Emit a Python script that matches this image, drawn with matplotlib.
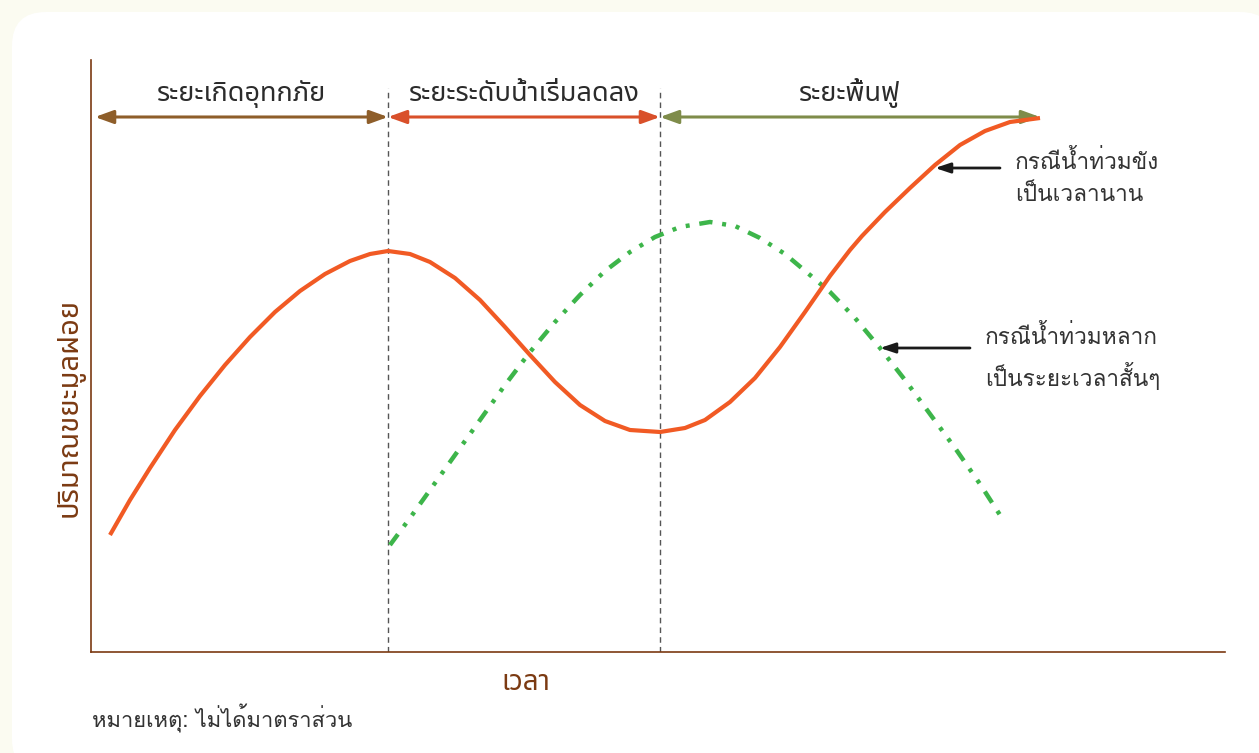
import matplotlib
matplotlib.use("Agg")
import matplotlib.pyplot as plt
from matplotlib import font_manager
from matplotlib.patches import FancyBboxPatch
from fontTools.ttLib import TTFont

# find installed fonts that have Thai glyphs
thai_fonts = []
for f in font_manager.fontManager.ttflist:
    try:
        tt = TTFont(f.fname, fontNumber=0, lazy=True)
        if 0x0E01 in tt.getBestCmap() and f.name not in thai_fonts:
            thai_fonts.append(f.name)
    except Exception:
        pass
# loopless font for the headings, looped one for the notes
plain_font = thai_fonts[0] if thai_fonts else 'DejaVu Sans'
for name in thai_fonts:
    if 'Loopless' in name or name == 'Noto Sans Thai':
        plain_font = name
        break
looped_font = plain_font
for name in ['Loma', 'Noto Sans Thai Looped', 'Garuda', 'Tlwg Typo']:
    if name in thai_fonts:
        looped_font = name
        break
plt.rcParams['font.family'] = [plain_font, 'DejaVu Sans']

# values (x: px from left spine, y: px above bottom spine)
long_flood_x = [19, 39, 59, 84, 109, 134, 159, 184, 209, 234, 259, 279, 297,
                319, 339, 364, 389, 414, 439, 464, 489, 514, 539, 569,
                594, 614, 639, 664, 689, 714, 739, 759, 771,
                794, 819, 844, 869, 894, 919, 949]
long_flood_y = [117, 152, 184, 222, 256, 287, 315, 340, 361, 378, 391, 398, 401,
                398, 390, 374, 352, 325, 297, 270, 247, 231, 222, 220,
                224, 232, 250, 274, 305, 340, 376, 402, 416,
                440, 464, 487, 507, 521, 530, 534]
short_flood_x = [299, 319, 339, 364, 389, 414, 439, 464, 489, 514, 539, 564, 589,
                 619, 644, 669, 694, 719, 739, 764, 789, 814, 839, 864, 889, 909]
short_flood_y = [107, 134, 162, 197, 232, 267, 300, 330, 357, 381, 400, 415, 425,
                 430, 426, 414, 398, 377, 360, 334, 304, 272, 238, 204, 168, 137]

phase_bounds = [4, 297, 569, 949]
phase_labels = ['ระยะเกิดอุทกภัย', 'ระยะระดับน้ำเริ่มลดลง', 'ระยะพื้นฟู']
phase_colors = ['#8E5E2A', '#D9502A', '#7F8C4A']

note_long = 'กรณีน้ำท่วมขัง\nเป็นเวลานาน'
note_short = 'กรณีน้ำท่วมหลาก\nเป็นระยะเวลาสั้นๆ'

fig = plt.figure(figsize=(12.59, 7.53), dpi=100, facecolor='#FBFBF1')
# white rounded panel
panel = FancyBboxPatch((12, -20), 1262, 741 + 20, boxstyle='round,pad=0,rounding_size=34',
                       transform=None, facecolor='white', edgecolor='none', zorder=-5)
fig.patches.append(panel)

ax = fig.add_axes([91 / 1259, (753 - 652) / 753, (1225 - 91) / 1259, (652 - 60) / 753])
ax.set_zorder(2)
ax.set_facecolor('none')
ax.set_xlim(0, 1134)
ax.set_ylim(0, 592)
brown = '#7B3A12'
for s in ['top', 'right']:
    ax.spines[s].set_visible(False)
for s in ['left', 'bottom']:
    ax.spines[s].set_color(brown)
    ax.spines[s].set_linewidth(1.2)
ax.set_xticks([])
ax.set_yticks([])

# phase boundaries
for xb in phase_bounds[1:3]:
    ax.plot([xb, xb], [0, 564], color='#555555', lw=1.0, ls=(0, (4, 3)), zorder=1)

# phase arrows and labels
arrow_y = 535
for i in range(3):
    x0, x1 = phase_bounds[i], phase_bounds[i + 1]
    ax.annotate('', xy=(x1, arrow_y), xytext=(x0, arrow_y),
                arrowprops=dict(arrowstyle='<|-|>,head_length=1.1,head_width=0.4',
                                color=phase_colors[i], lw=2.2, shrinkA=0, shrinkB=0))
    ax.text((x0 + x1) / 2, arrow_y + 9, phase_labels[i], ha='center', va='bottom',
            fontsize=19.5, color='#2b2b2b')

# curves
ax.plot(long_flood_x, long_flood_y, color='#F15A24', lw=3.0, zorder=3,
        solid_capstyle='butt', solid_joinstyle='round')
ax.plot(short_flood_x, short_flood_y, color='#3DB54A', lw=3.2, zorder=2,
        ls=(0, (3.0, 2.2, 0.9, 2.2, 0.9, 2.2)), dash_capstyle='butt')

# annotations
ax.annotate('', xy=(844, 484), xytext=(909, 484),
            arrowprops=dict(arrowstyle='-|>,head_length=0.9,head_width=0.3',
                            color='#1a1a1a', lw=2.0, shrinkA=0, shrinkB=0))
ax.text(924, 474, note_long, ha='left', va='center', fontsize=16.3, color='#333333',
        linespacing=1.6, family=[looped_font, 'DejaVu Sans'])
ax.annotate('', xy=(789, 304), xytext=(879, 304),
            arrowprops=dict(arrowstyle='-|>,head_length=0.9,head_width=0.3',
                            color='#1a1a1a', lw=2.0, shrinkA=0, shrinkB=0))
ax.text(894, 294, note_short, ha='left', va='center', fontsize=16.3, color='#333333',
        linespacing=1.6, family=[looped_font, 'DejaVu Sans'])

# axis titles
fig.text(70 / 1259, 1 - 407 / 753, 'ปริมาณขยะมูลฝอย', rotation=90, ha='center',
         va='center', fontsize=21, color=brown)
fig.text(526 / 1259, 1 - 683 / 753, 'เวลา', ha='center', va='center', fontsize=20,
         color=brown)
fig.text(92 / 1259, 1 - 718 / 753, 'หมายเหตุ: ไม่ได้มาตราส่วน', ha='left', va='center',
         fontsize=15.8, color='#333333', family=[looped_font, 'DejaVu Sans'])

fig.savefig('out.png', dpi=100, facecolor=fig.get_facecolor())
